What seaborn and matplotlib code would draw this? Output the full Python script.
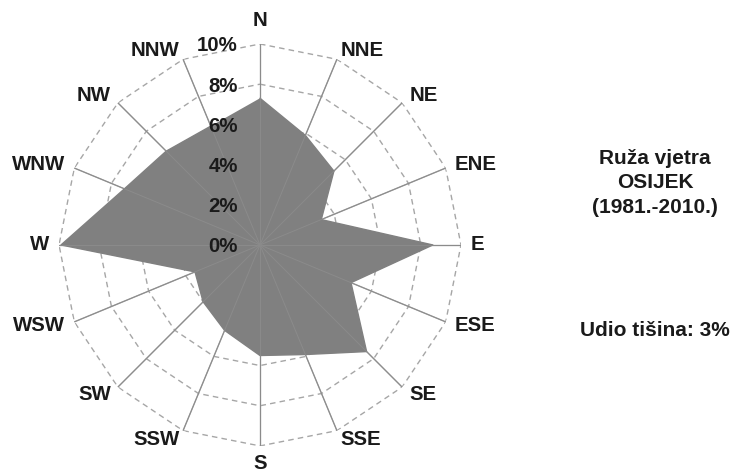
import numpy as np
import pandas as pd
import matplotlib as mpl
mpl.use("Agg")
from matplotlib import pyplot as plt
import seaborn as sns

# wind direction shares in %
directions = ["N", "NNE", "NE", "ENE", "E", "ESE", "SE", "SSE",
              "S", "SSW", "SW", "WSW", "W", "WNW", "NW", "NNW"]
shares = [7.3, 5.9, 5.2, 3.3, 8.6, 4.9, 7.5, 5.9,
          5.5, 4.6, 4.0, 3.5, 9.9, 7.3, 6.6, 6.4]
ring_levels = [2, 4, 6, 8, 10]
ring_labels = ["0%", "2%", "4%", "6%", "8%", "10%"]
title_lines = ["Ruža vjetra", "OSIJEK", "(1981.-2010.)"]
calm_text = "Udio tišina: 3%"

sns.set_theme(style="white")
plt.rcParams["font.family"] = ["Liberation Sans", "DejaVu Sans"]
plt.rcParams["font.weight"] = "bold"

df = pd.DataFrame({"smjer": directions, "udio": shares})
df["theta"] = np.arange(len(df)) * 2 * np.pi / len(df)
closed = pd.concat([df, df.iloc[[0]]], ignore_index=True)

fig = plt.figure(figsize=(7.33, 4.73), dpi=100)
ax = fig.add_axes([0.0805, 0.0571, 0.5484, 0.85], projection="polar")
ax.set_theta_zero_location("N")
ax.set_theta_direction(-1)
ax.set_ylim(0, 10)
ax.grid(False)
ax.spines["polar"].set_visible(False)
ax.set_xticks([])
ax.set_yticks([])

# polygon rings (dashed) and spokes
for lvl in ring_levels:
    ax.plot(closed["theta"], [lvl] * len(closed), color="#a6a6a6",
            lw=1, ls=(0, (4, 3)), zorder=1)
for t in df["theta"]:
    ax.plot([t, t], [0, 10], color="#a6a6a6", lw=1, zorder=1)

# filled rose
ax.fill(closed["theta"], closed["udio"], color="#808080", zorder=2, lw=0)
sns.lineplot(data=closed, x="theta", y="udio", sort=False, ax=ax,
             color="#808080", lw=1, zorder=3)
ax.set_xlabel("")
ax.set_ylabel("")
for t in df["theta"]:
    ax.plot([t, t], [0, 10], color="#8b8b8b", lw=0.7, zorder=4)

# radial labels along N axis
for i, lab in enumerate(ring_labels):
    ax.annotate(lab, xy=(0, i * 2), xytext=(-22, -2), textcoords="offset pixels",
                ha="right", va="center", fontsize=14.7, fontweight="bold",
                color="#1a1a1a", zorder=5)

# direction labels
for t, name in zip(df["theta"], df["smjer"]):
    s, c = np.sin(t), np.cos(t)
    if abs(s) < 0.1:
        ha = "center"
        va = "bottom" if c > 0 else "top"
        off = (0, 14 if c > 0 else -8)
    else:
        ha = "left" if s > 0 else "right"
        va = "center"
        off = (10 * s, 10 * c)
    ax.annotate(name, xy=(t, 10), xytext=off, textcoords="offset pixels",
                ha=ha, va=va, fontsize=14.7, fontweight="bold", color="#1a1a1a",
                annotation_clip=False)

for k, line in enumerate(title_lines):
    fig.text(655 / 733, 1 - (158 + k * 24.5) / 473, line, ha="center", va="center",
             fontsize=15, fontweight="bold", color="#1a1a1a")
fig.text(655 / 733, 1 - 330 / 473, calm_text, ha="center", va="center",
         fontsize=15, fontweight="bold", color="#1a1a1a")

fig.savefig("out.png", dpi=100, facecolor="white")
